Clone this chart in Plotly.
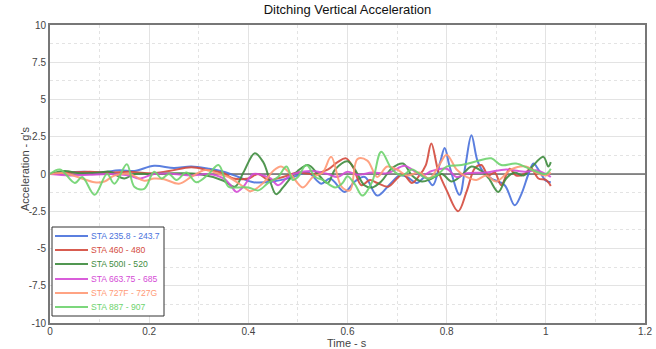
import plotly.graph_objects as go

# Keyframe samples (time in s, acceleration in g) for each station
t_sta235 = [0.00, 0.03, 0.07, 0.10, 0.14, 0.17, 0.21, 0.25, 0.285, 0.32, 0.35, 0.38, 0.41, 0.45, 0.49, 0.52,
            0.547, 0.565, 0.594, 0.615, 0.635, 0.66, 0.685, 0.705, 0.72, 0.74, 0.757, 0.772, 0.787, 0.796,
            0.806, 0.826, 0.838, 0.85, 0.862, 0.875, 0.89, 0.917, 0.937, 0.95, 0.965, 0.975, 0.985, 1.00, 1.01]
g_sta235 = [0.0, 0.1, 0.15, 0.1, 0.25, 0.2, 0.55, 0.4, 0.5, 0.35, 0.15, -0.2, -0.55, -0.5, -0.2, 0.1,
            -0.65, -0.3, -1.2, -0.5, -0.2, -1.45, -0.7, -0.1, -0.2, -0.6, -0.2, -0.75, 0.8, 1.75,
            0.5, -1.4, 0.6, 2.6, 0.9, 0.1, -0.3, -0.75, -2.1, -1.4, 0.0, 0.7, 0.3, -0.45, -0.55]

t_sta460 = [0.00, 0.04, 0.08, 0.12, 0.16, 0.20, 0.24, 0.285, 0.32, 0.35, 0.37, 0.40, 0.42, 0.44, 0.47, 0.50,
            0.53, 0.56, 0.58, 0.597, 0.612, 0.628, 0.645, 0.66, 0.682, 0.70, 0.712, 0.73, 0.745, 0.758,
            0.769, 0.783, 0.80, 0.823, 0.84, 0.857, 0.87, 0.884, 0.897, 0.91, 0.927, 0.94, 0.957, 0.97,
            0.985, 1.00, 1.01]
g_sta460 = [0.0, 0.1, 0.15, 0.1, 0.15, 0.05, 0.2, 0.45, 0.25, 0.05, -0.3, -0.3, 0.0, -0.4, -0.2, 0.1,
            0.0, 0.3, 0.8, 1.05, 0.4, -0.75, -0.4, -0.6, -0.85, -0.3, 0.0, -0.6, -0.1, 0.6,
            2.05, 0.2, -1.1, -2.5, -1.2, 0.4, 0.6, -0.1, 0.1, -0.75, 0.35, -0.1, 0.0, 0.4,
            -0.3, -0.4, -0.8]

t_sta500 = [0.00, 0.03, 0.06, 0.10, 0.12, 0.15, 0.17, 0.20, 0.25, 0.30, 0.35, 0.373, 0.39, 0.413, 0.43,
            0.445, 0.456, 0.47, 0.49, 0.52, 0.54, 0.56, 0.575, 0.60, 0.615, 0.634, 0.65, 0.668, 0.69,
            0.712, 0.73, 0.75, 0.77, 0.79, 0.81, 0.83, 0.85, 0.87, 0.885, 0.904, 0.92, 0.937, 0.955,
            0.97, 0.995, 1.005, 1.01]
g_sta500 = [0.0, 0.2, 0.05, 0.1, 0.15, -0.3, 0.0, 0.0, 0.05, 0.0, -0.45, -0.85, 0.1, 1.4, 0.8,
            -0.6, -1.35, -0.9, -0.1, 0.6, 0.0, -0.6, 0.3, 0.85, 0.3, -0.75, -0.9, -0.5, 0.4,
            0.7, -0.1, -0.5, -0.3, 0.0, -0.5, -0.1, 0.5, 0.2, -0.3, -1.2, -0.3, 0.1, -0.1,
            0.4, 1.15, 0.5, 0.8]

t_sta663 = [0.00, 0.04, 0.08, 0.12, 0.16, 0.18, 0.21, 0.25, 0.285, 0.32, 0.35, 0.363, 0.376, 0.39, 0.41,
            0.43, 0.445, 0.46, 0.48, 0.50, 0.53, 0.56, 0.58, 0.60, 0.62, 0.65, 0.68, 0.715, 0.73, 0.75,
            0.77, 0.80, 0.82, 0.84, 0.88, 0.92, 0.96, 0.98, 1.00, 1.01]
g_sta663 = [0.0, -0.1, -0.05, 0.0, -0.1, -0.3, 0.0, 0.0, -0.1, 0.0, -0.3, -0.7, -1.2, -0.85, 0.0,
            -0.1, -0.3, -0.75, -0.2, 0.1, 0.2, 0.0, -0.2, 0.15, -0.05, 0.1, 0.05, 0.55, 0.3, -0.1,
            0.2, 0.35, -0.2, 0.05, 0.1, 0.3, 0.15, 0.25, 0.0, -0.2]

t_sta727 = [0.00, 0.03, 0.06, 0.09, 0.11, 0.13, 0.16, 0.19, 0.21, 0.23, 0.26, 0.285, 0.313, 0.34, 0.36,
            0.39, 0.405, 0.43, 0.45, 0.466, 0.485, 0.51, 0.53, 0.55, 0.567, 0.588, 0.605, 0.62, 0.64,
            0.66, 0.68, 0.70, 0.72, 0.745, 0.765, 0.785, 0.80, 0.82, 0.84, 0.86, 0.88, 0.90, 0.93,
            0.96, 0.98, 1.00, 1.01]
g_sta727 = [0.0, 0.05, -0.25, -0.55, -0.5, -0.1, 0.0, -0.45, -0.3, -0.35, -0.65, -0.2, 0.27, 0.0, -0.2,
            -0.85, -1.15, -0.6, 0.2, 0.5, 0.0, -0.9, -0.2, 0.1, 1.15, -0.85, -1.1, 1.0, 0.9,
            -0.2, 0.5, 0.3, -0.1, 0.1, -0.3, 0.6, 1.3, 0.3, -0.2, -0.4, -0.1, -0.5, 0.3,
            0.5, 0.1, -0.1, 0.1]

t_sta887 = [0.00, 0.02, 0.05, 0.065, 0.09, 0.115, 0.13, 0.155, 0.17, 0.19, 0.21, 0.225, 0.24, 0.255,
            0.275, 0.295, 0.32, 0.34, 0.36, 0.38, 0.40, 0.42, 0.44, 0.46, 0.477, 0.49, 0.50, 0.517,
            0.535, 0.55, 0.575, 0.59, 0.60, 0.615, 0.63, 0.65, 0.668, 0.69, 0.71, 0.73, 0.76, 0.78,
            0.80, 0.83, 0.86, 0.89, 0.91, 0.94, 0.97, 1.00, 1.01]
g_sta887 = [0.0, 0.3, -0.6, -0.2, -1.4, 0.0, -0.65, 0.65, -0.85, -1.0, 0.15, -0.3, 0.0, -0.4,
            0.1, -0.55, 0.0, 0.6, -0.85, -0.9, -0.9, -1.1, -0.6, -0.2, 0.5, -0.4, -0.2, 0.6,
            -0.2, -0.4, -0.9, -0.6, -0.15, -0.7, -1.45, -0.5, 1.5, 0.3, -0.1, 0.3, -0.3, -0.1,
            0.5, 0.6, 0.85, 1.05, 0.6, 0.7, 0.3, 0.0, 0.35]

series_names = ["STA 235.8 - 243.7", "STA 460 - 480", "STA 500I - 520",
                "STA 663.75 - 685", "STA 727F - 727G", "STA 887 - 907"]
series_colors = ["#4A72DC", "#D44B3E", "#3F8C3F", "#D54CD6", "#FF9A76", "#6ED36E"]
series_t = [t_sta235, t_sta460, t_sta500, t_sta663, t_sta727, t_sta887]
series_g = [g_sta235, g_sta460, g_sta500, g_sta663, g_sta727, g_sta887]

x_ticks = [0, 0.2, 0.4, 0.6, 0.8, 1.0, 1.2]
x_tick_text = ["0", "0.2", "0.4", "0.6", "0.8", "1", "1.2"]
y_ticks = [-10, -7.5, -5, -2.5, 0, 2.5, 5, 7.5, 10]
y_tick_text = ["-10", "-7.5", "-5", "-2.5", "0", "2.5", "5", "7.5", "10"]

# plot-area geometry in pixels (used to place the boxed key and titles in paper coordinates)
PLOT_L, PLOT_T, PLOT_W, PLOT_H = 50, 25, 595, 298
FIG_W, FIG_H = 656, 349


def px_to_paper(px, py):
    return (px - PLOT_L) / PLOT_W, (PLOT_T + PLOT_H - py) / PLOT_H


fig = go.Figure()

# horizontal reference line at zero
fig.add_trace(go.Scatter(x=[0, 1.2], y=[0, 0], mode="lines",
                         line=dict(color="#222222", width=1), showlegend=False, hoverinfo="skip"))

for name, color, tt, gg in zip(series_names, series_colors, series_t, series_g):
    fig.add_trace(go.Scatter(
        x=tt, y=gg, mode="lines", name=name,
        line=dict(color=color, width=2, shape="spline", smoothing=1.0),
        opacity=0.9, showlegend=False,
    ))

shapes = []
annotations = []

# boxed key in the lower-left corner of the plot area
bx0, by0 = px_to_paper(52, 316)
bx1, by1 = px_to_paper(164, 227)
shapes.append(dict(type="rect", xref="paper", yref="paper", x0=bx0, y0=by0, x1=bx1, y1=by1,
                   line=dict(color="#333333", width=1), fillcolor="white", layer="above"))
row_px = [236, 250, 264, 279, 293, 307]
for name, color, ry in zip(series_names, series_colors, row_px):
    lx0, ly = px_to_paper(55, ry)
    lx1, _ = px_to_paper(88, ry)
    shapes.append(dict(type="line", xref="paper", yref="paper", x0=lx0, x1=lx1, y0=ly, y1=ly,
                       line=dict(color=color, width=2), layer="above", opacity=0.9))
    tx, _ = px_to_paper(89, ry)
    annotations.append(dict(xref="paper", yref="paper", x=tx, y=ly, xanchor="left", yanchor="middle",
                            text=name, showarrow=False, font=dict(size=8.6, color=color)))

# axis titles
xt_x, xt_y = px_to_paper(347, 343)
annotations.append(dict(xref="paper", yref="paper", x=xt_x, y=xt_y, xanchor="center", yanchor="middle",
                        text="Time - s", showarrow=False, font=dict(size=11, color="#444444")))
yt_x, yt_y = px_to_paper(25, 168)
annotations.append(dict(xref="paper", yref="paper", x=yt_x, y=yt_y, xanchor="center", yanchor="middle",
                        text="Acceleration - g's", textangle=-90, showarrow=False,
                        font=dict(size=11, color="#444444")))

fig.update_layout(
    width=FIG_W, height=FIG_H,
    margin=dict(l=PLOT_L, r=FIG_W - PLOT_L - PLOT_W, t=PLOT_T, b=FIG_H - PLOT_T - PLOT_H),
    paper_bgcolor="white", plot_bgcolor="white",
    font=dict(family="Liberation Sans, Arial, sans-serif", size=10, color="#444444"),
    title=dict(text="Ditching Vertical Acceleration", xref="paper", x=0.5, xanchor="center",
               y=0.985, yanchor="top", font=dict(size=13, color="#111111")),
    showlegend=False,
    shapes=shapes,
    annotations=annotations,
)

fig.update_xaxes(
    range=[0, 1.2], tickvals=x_ticks, ticktext=x_tick_text, automargin=False,
    showgrid=True, gridcolor="#e3e3e3", gridwidth=1,
    minor=dict(dtick=0.1, tick0=0, showgrid=True, gridcolor="#e3e3e3", griddash="dot", gridwidth=1),
    showline=True, linecolor="#777777", linewidth=2, mirror=True,
    ticks="", zeroline=False, ticklabelstandoff=-2,
    tickfont=dict(size=10, color="#444444"),
)
fig.update_yaxes(
    range=[-10, 10], tickvals=y_ticks, ticktext=y_tick_text, automargin=False,
    showgrid=True, gridcolor="#e3e3e3", gridwidth=1,
    minor=dict(dtick=1.25, tick0=0, showgrid=True, gridcolor="#e3e3e3", griddash="dot", gridwidth=1),
    showline=True, linecolor="#777777", linewidth=2, mirror=True,
    ticks="", zeroline=False,
    tickfont=dict(size=10, color="#444444"),
)

fig.write_html("out.html")
